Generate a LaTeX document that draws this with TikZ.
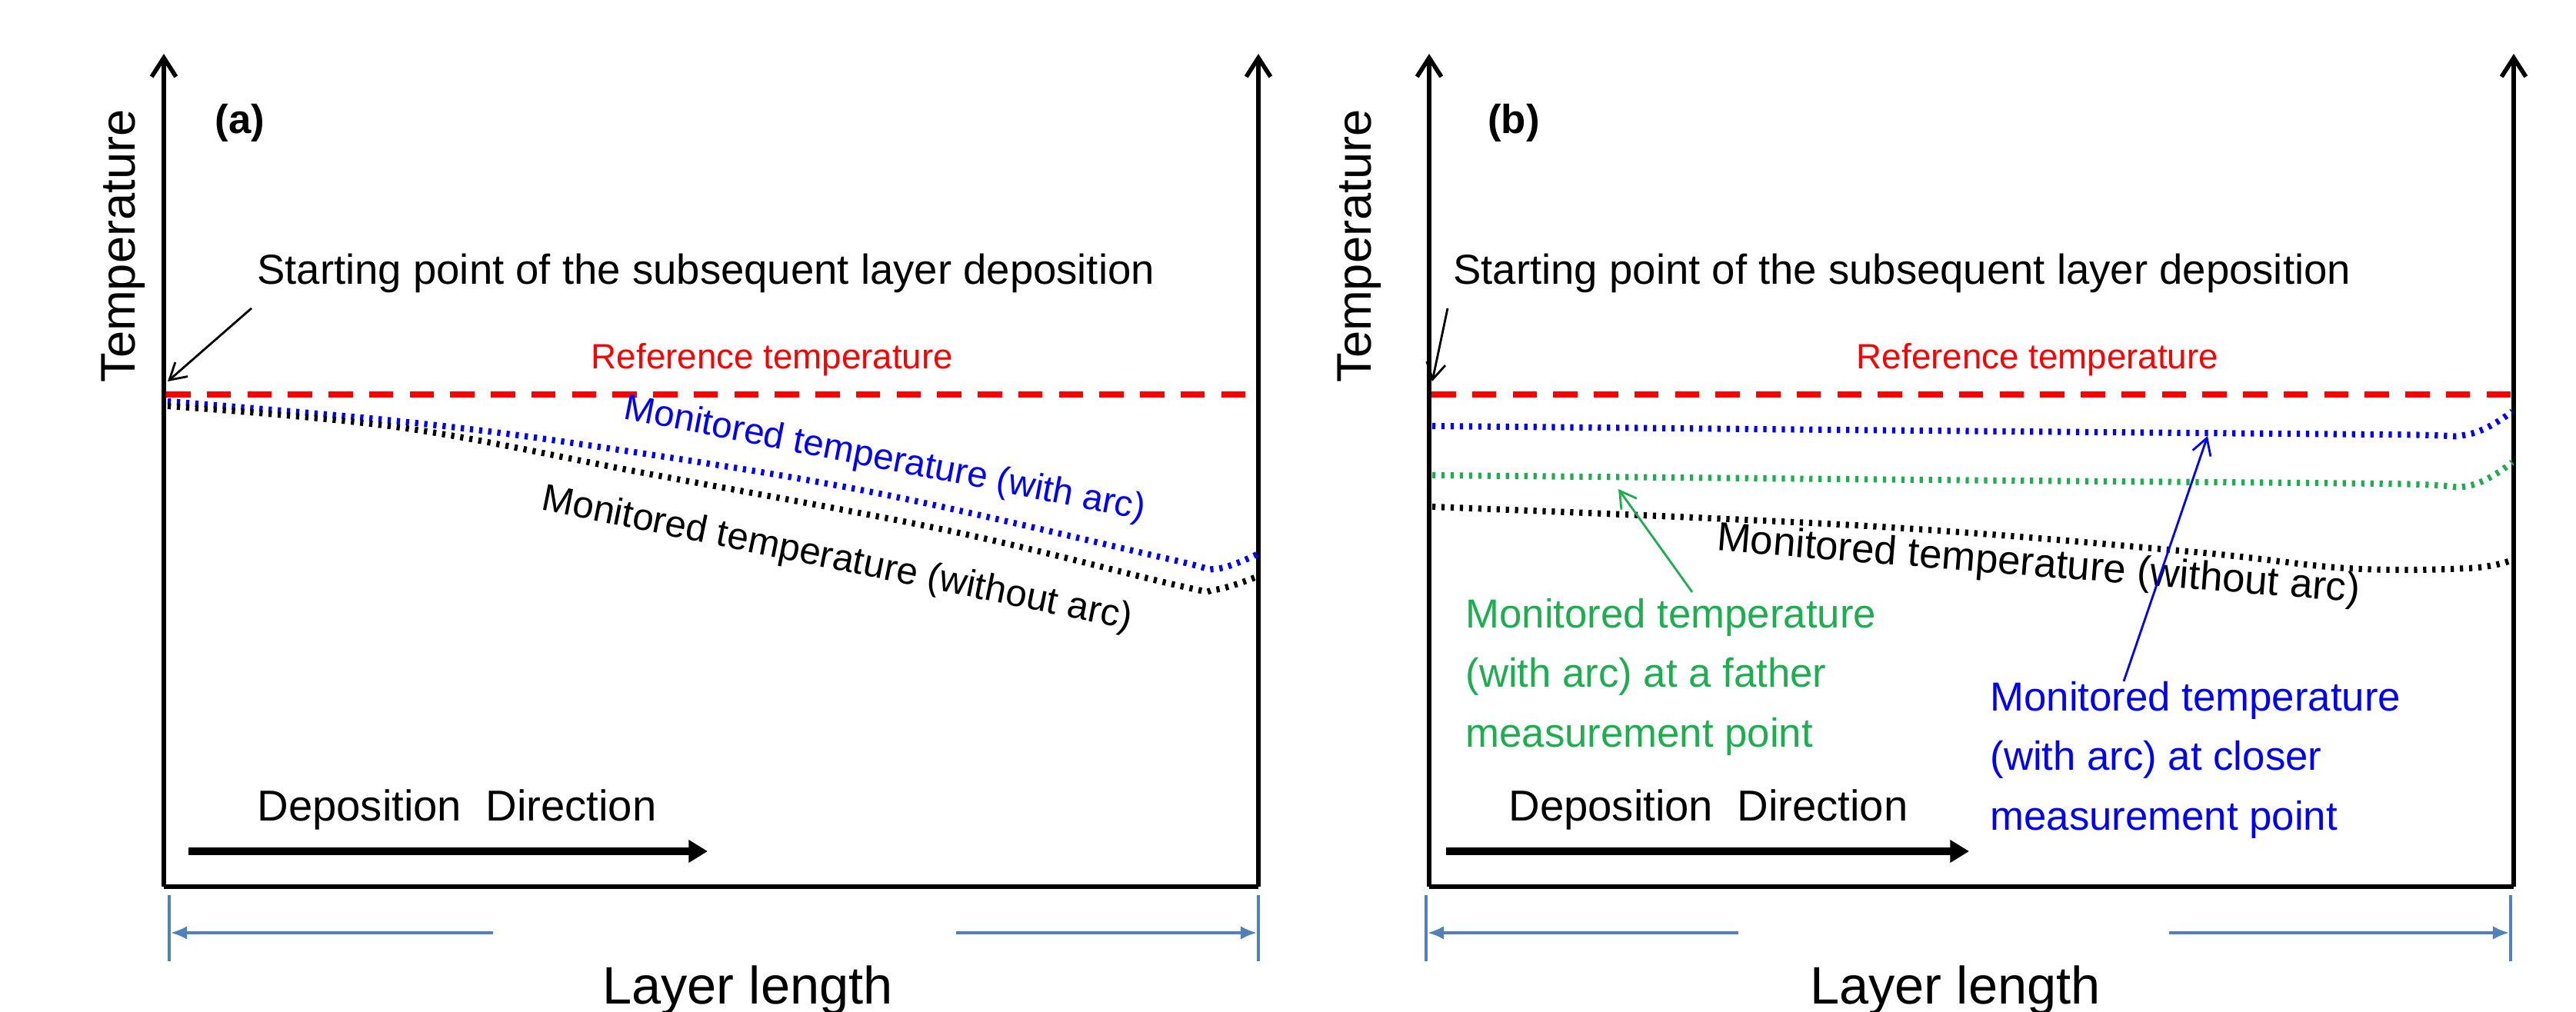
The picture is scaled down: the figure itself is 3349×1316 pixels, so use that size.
\documentclass[tikz,border=0pt]{standalone}
\usepackage{fontspec}
\setmainfont{Liberation Sans}
\usetikzlibrary{arrows.meta}
\definecolor{dimc}{HTML}{4F81BD}
\definecolor{grn}{HTML}{1DAE4F}
\begin{document}
\begin{tikzpicture}[x=0.01cm,y=-0.01cm,
 axis/.style={line width=1.8pt,-{Straight Barb[length=7pt,width=9pt,line width=1.6pt]}},
 frame/.style={line width=1.8pt},
 refl/.style={red,line width=2.3pt,dash pattern=on 9pt off 6pt},
 dots/.style={line width=2.3pt,dash pattern=on 1.2pt off 2.2pt},
 lbl/.style={font=\fontsize{13}{15}\selectfont},
 lblb/.style={font=\fontsize{15}{17}\selectfont},
 big/.style={font=\fontsize{19.5}{22}\selectfont},
 dep/.style={font=\fontsize{16}{18}\selectfont},
 dim/.style={dimc,line width=1pt,-{Latex[length=6pt,width=5pt]}},
 tick/.style={dimc,line width=1pt},
 thinarr/.style={line width=0.8pt,-{Straight Barb[length=6pt,width=7pt]}},
 deparr/.style={line width=2.6pt,-{Triangle[length=7pt,width=8pt]}}]
\useasboundingbox (0,0) rectangle (3349,1316);
\fill[white] (0,0) rectangle (3349,1316);
% ---------- panel a ----------
\coordinate (a0) at (213,1153);
\coordinate (a1) at (1636,1153);
\coordinate (at0) at (213,70);
\coordinate (at1) at (1636,70);
\draw[frame] (a0) -- (a1);
\draw[axis] (a0) -- (at0);
\draw[axis] (a1) -- (at1);
\node[font=\fontsize{18}{20}\selectfont,rotate=90] (tA) at (160,320) {Temperature};
\node[font=\fontsize{15}{18}\selectfont\bfseries] (la) at (312,160) {(a)};
\node[font=\fontsize{15.5}{18}\selectfont,anchor=west] (sA) at (322,355) {Starting point of the subsequent layer deposition};
\coordinate (sAe) at (218,496);
\draw[thinarr] (sA.south west)++(5,8) coordinate (sAs) -- (sAe);
\node[lbl,red] (rA) at (1004,468) {Reference temperature};
\draw[refl] (216,513) -- (1634,513);
\draw[dots,blue] plot[smooth,tension=0.6] coordinates {(218,522) (521,548) (778,581) (1134,640) (1520,727) (1579,740) (1634,721)};
\draw[dots,black] plot[smooth,tension=0.6] coordinates {(218,528) (521,556) (837,615) (1233,690) (1530,761) (1579,767) (1634,750)};
\node[font=\fontsize{13.5}{15}\selectfont,blue,rotate=-11] (mA1) at (1150,598) {Monitored temperature (with arc)};
\node[font=\fontsize{14}{16}\selectfont,black,rotate=-11.5] (mA2) at (1088,728) {Monitored temperature (without arc)};
\node[dep] (dA) at (594,1053) {Deposition\ \ Direction};
\coordinate (dA0) at (245,1107); \coordinate (dA1) at (920,1107);
\draw[deparr] (dA0) -- (dA1);
\node[big] (LA) at (972,1288) {Layer length};
\draw[tick] (220,1164) -- (220,1250);
\draw[tick] (1636,1164) -- (1636,1250);
\draw[dim] (641,1213) -- (222,1213);
\draw[dim] (1243,1213) -- (1634,1213);
% ---------- panel b ----------
\coordinate (b0) at (1858,1153);
\coordinate (b1) at (3268,1153);
\coordinate (bt0) at (1858,70);
\coordinate (bt1) at (3268,70);
\draw[frame] (b0) -- (b1);
\draw[axis] (b0) -- (bt0);
\draw[axis] (b1) -- (bt1);
\node[font=\fontsize{18}{20}\selectfont,rotate=90] (tB) at (1767,320) {Temperature};
\node[font=\fontsize{15}{18}\selectfont\bfseries] (lb) at (1968,160) {(b)};
\node[font=\fontsize{15.5}{18}\selectfont,anchor=west] (sB) at (1877,355) {Starting point of the subsequent layer deposition};
\coordinate (sBe) at (1862,496);
\draw[thinarr] (sB.south west)++(5,8) coordinate (sBs) -- (sBe);
\node[lbl,red] (rB) at (2649,468) {Reference temperature};
\draw[refl] (1861,513) -- (3266,513);
\draw[dots,blue] plot[smooth,tension=0.6] coordinates {(1862,554) (2500,560) (3100,565) (3208,565) (3266,535)};
\draw[dots,grn] plot[smooth,tension=0.6] coordinates {(1862,618) (2500,624) (3100,629) (3208,632) (3266,601)};
\draw[dots,black] plot[smooth,tension=0.6] coordinates {(1862,659) (2428,684) (2844,717) (3052,739) (3208,739) (3264,729)};
\node[lblb,black,rotate=-4.6] (mB) at (2650,736) {Monitored temperature (without arc)};
\node[lblb,grn,anchor=west,align=left] (gB) at (1893,880) {Monitored temperature\\[5pt](with arc) at a father\\[5pt]measurement point};
\coordinate (gBs) at (2200,770); \coordinate (gBe) at (2104,636);
\draw[thinarr,grn] (gBs) -- (gBe);
\node[lblb,blue,anchor=west,align=left] (bB) at (2575,988) {Monitored temperature\\[5pt](with arc) at closer\\[5pt]measurement point};
\coordinate (bBs) at (2761,886); \coordinate (bBe) at (2870,567);
\draw[thinarr,blue] (bBs) -- (bBe);
\node[dep] (dB) at (2221,1053) {Deposition\ \ Direction};
\coordinate (dB0) at (1880,1107); \coordinate (dB1) at (2560,1107);
\draw[deparr] (dB0) -- (dB1);
\node[big] (LB) at (2542,1288) {Layer length};
\draw[tick] (1854,1164) -- (1854,1250);
\draw[tick] (3264,1164) -- (3264,1250);
\draw[dim] (2260,1213) -- (1856,1213);
\draw[dim] (2820,1213) -- (3262,1213);
\end{tikzpicture}
\end{document}
